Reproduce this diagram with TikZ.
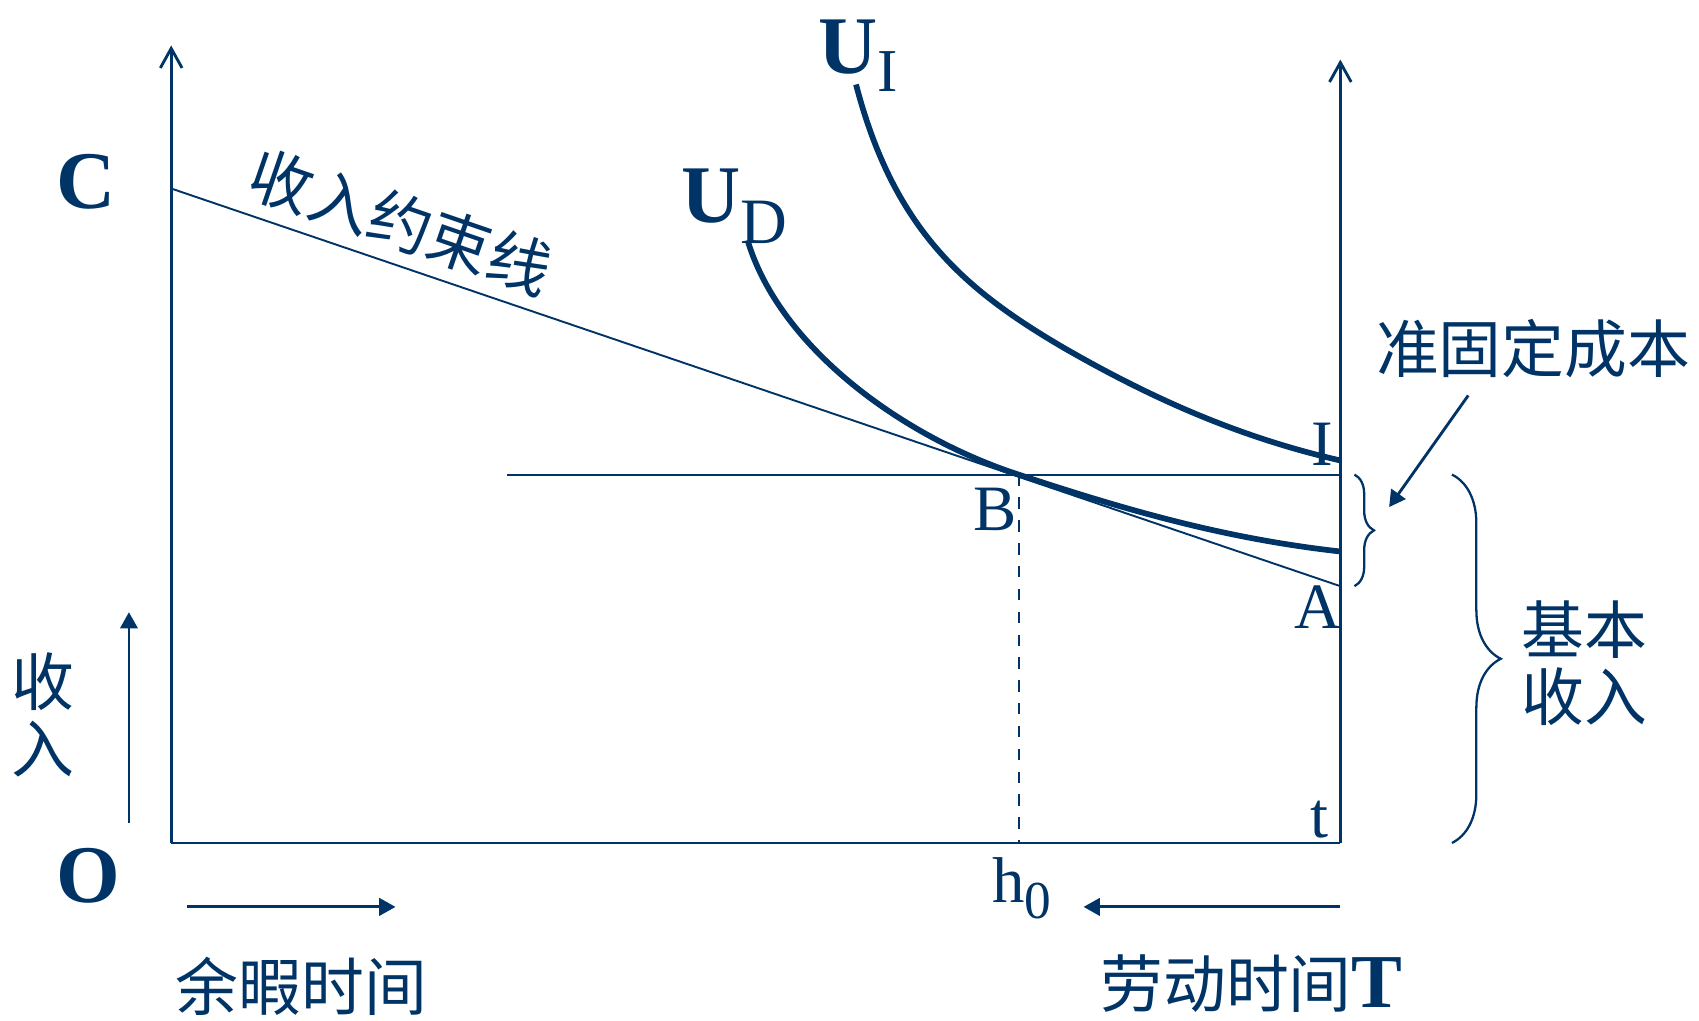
\documentclass[tikz,border=0pt]{standalone}
\usepackage{fontspec}
\setmainfont{Liberation Serif}
\newfontfamily\cjk{Noto Sans CJK SC}
\usetikzlibrary{arrows.meta,decorations.pathreplacing}
\definecolor{navy}{RGB}{0,51,102}
\newcommand{\lowsub}[2]{\raisebox{-#1}{\fontsize{16}{16}\selectfont #2}}

\begin{document}
\begin{tikzpicture}[
  x=1cm,y=1cm,
  color=navy,
  axis/.style={line width=0.75pt,-{Straight Barb[length=1.8mm,width=2mm]}},
  frame/.style={line width=0.75pt},
  budget/.style={line width=0.5pt},
  indiff/.style={line width=1.5pt},
  guide/.style={line width=0.5pt,dashed},
  brc/.style={line width=0.6pt,decorate},
  flow/.style={line width=0.75pt,-{Triangle[length=1.5mm,width=1.6mm]}},
  big/.style={font=\fontsize{21.5}{24}\selectfont\bfseries},
  mid/.style={font=\fontsize{17}{20}\selectfont},
  zh/.style={font=\cjk\fontsize{16.5}{17.5}\selectfont,align=center,inner sep=1pt}
]
\useasboundingbox (0,0) rectangle (15.68,9.42);

%%%%%%%%%%%%%%%%%%%%%%%%%%%%%%%%%%%%%%%%%%%%%%%%%%%%
% axes
%%%%%%%%%%%%%%%%%%%%%%%%%%%%%%%%%%%%%%%%%%%%%%%%%%%%
\coordinate (O) at (1.58,1.64);
\coordinate (Ytop) at (1.58,9.00);
\coordinate (T) at (12.37,1.64);
\coordinate (Ttop) at (12.37,8.87);
\draw[axis] (O) -- (Ytop);
\draw[axis] (T) -- (Ttop);
\draw[frame] (O) -- (T);

\node[big,anchor=base] (lC) at (0.79,7.50) {C};
\node[big,anchor=base] (lO) at (0.815,1.09) {O};

%%%%%%%%%%%%%%%%%%%%%%%%%%%%%%%%%%%%%%%%%%%%%%%%%%%%
% budget line, income level, curves
%%%%%%%%%%%%%%%%%%%%%%%%%%%%%%%%%%%%%%%%%%%%%%%%%%%%
\coordinate (C) at (1.58,7.68);
\coordinate (A) at (12.37,4.01);
\coordinate (B) at (9.40,5.04);
\coordinate (H) at (4.68,5.04);
\coordinate (Tb) at (12.37,5.04);
\coordinate (h0) at (9.40,1.64);
\draw[budget] (C) -- (A);
\node[zh,rotate=-19] (budgetlbl) at (3.70,7.37) {收入约束线};
\draw[budget] (H) -- (Tb);
\draw[guide] (B) -- (h0);

% U_D touches the budget line at B
\coordinate (UDs) at (6.90,7.20);
\coordinate (UDe) at (12.37,4.33);
\draw[indiff] (UDs) .. controls (7.20,6.20) and (8.35,5.38) .. (B)
  .. controls (10.40,4.71) and (11.30,4.45) .. (UDe);

\coordinate (UIs) at (7.90,8.64);
\coordinate (UIm) at (9.80,6.22);
\coordinate (UIe) at (12.37,5.17);
\draw[indiff] (UIs) .. controls (8.25,7.30) and (8.90,6.75) .. (UIm)
  .. controls (10.70,5.70) and (11.50,5.37) .. (UIe);

\node[big,anchor=base west,inner sep=0pt] (lUI) at (7.55,8.74) {U\lowsub{4.8pt}{\mdseries I}};
\node[big,anchor=base west,inner sep=0pt] (lUD) at (6.28,7.37) {U\lowsub{5.6pt}{\fontsize{17}{17}\selectfont\mdseries D}};
\node[mid,anchor=base] (lI) at (12.20,5.12) {I};
\node[mid,anchor=base] (lB) at (9.18,4.52) {B};
\node[mid,anchor=base] (lA) at (12.16,3.62) {A};
\node[mid,anchor=base] (lt) at (12.18,1.69) {t};
\node[mid,anchor=base west,inner sep=0pt] (lh) at (9.15,1.09) {h\raisebox{-4.3pt}{\fontsize{14}{14}\selectfont 0}};

%%%%%%%%%%%%%%%%%%%%%%%%%%%%%%%%%%%%%%%%%%%%%%%%%%%%
% braces on the right
%%%%%%%%%%%%%%%%%%%%%%%%%%%%%%%%%%%%%%%%%%%%%%%%%%%%
\coordinate (sb1) at (12.50,5.04);
\coordinate (sb2) at (12.50,4.01);
\draw[brc,decoration={brace,amplitude=1.8mm}] (sb1) -- (sb2);
\coordinate (bb1) at (13.40,5.04);
\coordinate (bb2) at (13.40,1.64);
\draw[brc,decoration={brace,amplitude=4.5mm}] (bb1) -- (bb2);

\node[zh] (qfc) at (14.15,6.20) {准固定成本};
\coordinate (qfTail) at (13.55,5.77);
\coordinate (qfHead) at (12.82,4.74);
\draw[flow] (qfTail) -- (qfHead);
\node[zh] (basic) at (14.62,3.30) {基本\\收入};

%%%%%%%%%%%%%%%%%%%%%%%%%%%%%%%%%%%%%%%%%%%%%%%%%%%%
% direction arrows
%%%%%%%%%%%%%%%%%%%%%%%%%%%%%%%%%%%%%%%%%%%%%%%%%%%%
\coordinate (inc1) at (1.19,1.82);
\coordinate (inc2) at (1.19,3.77);
\draw[flow] (inc1) -- (inc2);
\node[zh] (incl) at (0.40,2.82) {收\\入};

\coordinate (lei1) at (1.73,1.05);
\coordinate (lei2) at (3.65,1.05);
\draw[flow] (lei1) -- (lei2);
\node[zh] (leil) at (2.78,0.32) {余暇时间};

\coordinate (lab1) at (12.37,1.05);
\coordinate (lab2) at (10.00,1.05);
\draw[flow] (lab1) -- (lab2);
\node[zh] (labl) at (11.55,0.34) {劳动时间{\fontspec{Liberation Serif}\fontsize{20}{20}\selectfont\bfseries T}};

\end{tikzpicture}
\end{document}
